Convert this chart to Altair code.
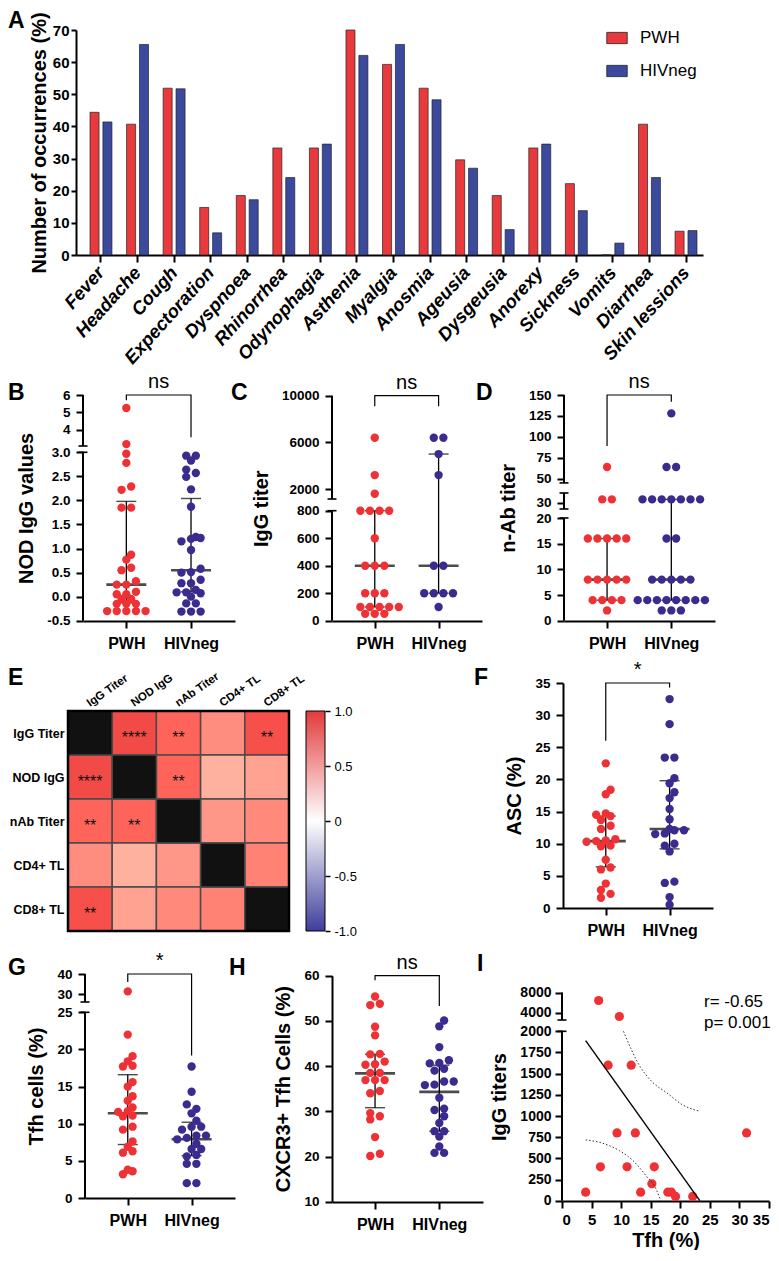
import altair as alt
import pandas as pd
import numpy as np

FONT = "Liberation Sans"
NARROW = "Liberation Sans"
RED = "#EE3135"
PURPLE = "#3B2B8E"
BAR_RED = "#E83A3D"
BAR_BLUE = "#3B4A9D"
HEAT_NEG = "#3E3E9B"
HEAT_POS = "#E23B3C"
groups = ["PWH", "HIVneg"]

# ---------------- A: symptoms ----------------
symptoms = ["Fever", "Headache", "Cough", "Expectoration", "Dyspnoea", "Rhinorrhea",
            "Odynophagia", "Asthenia", "Myalgia", "Anosmia", "Ageusia", "Dysgeusia",
            "Anorexy", "Sickness", "Vomits", "Diarrhea", "Skin lessions"]
symptom_pwh = [44.4, 40.7, 51.9, 14.8, 18.5, 33.3, 33.3, 70.0, 59.3, 51.9, 29.6, 18.5,
               33.3, 22.2, 0.0, 40.7, 7.4]
symptom_hivneg = [41.4, 65.5, 51.7, 6.9, 17.2, 24.1, 34.5, 62.1, 65.5, 48.3, 27.0, 7.9,
                  34.5, 13.8, 3.7, 24.1, 7.6]

# ---------------- B: NOD IgG ----------------
nod_pwh = [5.25, 3.16, 2.97, 2.78, 2.29, 2.22, 1.85, 1.85, 0.87, 0.77, 0.60, 0.55, 0.32,
           0.25, 0.25, 0.10, 0.05, 0.05, -0.05, -0.05, -0.15, -0.15, -0.15, -0.30, -0.30,
           -0.30, -0.30, -0.30]
nod_hivneg = [2.93, 2.93, 2.83, 2.64, 2.57, 2.49, 2.23, 1.87, 1.24, 1.22, 1.20, 1.15, 0.97,
              0.58, 0.51, 0.50, 0.35, 0.28, 0.28, 0.14, 0.09, 0.09, 0.07, 0.0, -0.14, -0.14,
              -0.31, -0.31, -0.31]
nod_median = [0.25, 0.55]
nod_low = [-0.13, 0.10]
nod_high = [1.98, 2.04]

# ---------------- C: IgG titer ----------------
igg_pwh = [6400, 3200, 1600, 800, 800, 800, 800, 600, 400, 400, 400, 200, 200, 200,
           100, 100, 100, 100, 100, 50, 50, 50]
igg_hivneg = [6400, 6400, 5000, 3200, 400, 400, 200, 200, 200, 200, 100]
igg_median = [400, 400]
igg_low = [100, 200]
igg_high = [800, 5000]

# ---------------- D: n-Ab titer ----------------
nab_pwh = [64, 32, 32, 16, 16, 16, 16, 16, 8, 8, 8, 8, 8, 4, 4, 4, 4, 2]
nab_hivneg = [128, 64, 64, 32, 32, 32, 32, 32, 32, 32, 16, 16, 8, 8, 8, 8, 8,
              4, 4, 4, 4, 4, 4, 4, 4, 2, 2, 2]
nab_median = [8, 8]
nab_low = [4, 4]
nab_high = [16, 32]

# ---------------- E: correlation matrix ----------------
corr_vars = ["IgG Titer", "NOD IgG", "nAb Titer", "CD4+ TL", "CD8+ TL"]
corr_values = [
    [None, 0.90, 0.72, 0.42, 0.86],
    [0.90, None, 0.72, 0.16, 0.27],
    [0.72, 0.72, None, 0.35, 0.45],
    [0.42, 0.16, 0.35, None, 0.50],
    [0.86, 0.27, 0.45, 0.50, None],
]
corr_stars = [
    ["", "****", "**", "", "**"],
    ["****", "", "**", "", ""],
    ["**", "**", "", "", ""],
    ["", "", "", "", ""],
    ["**", "", "", "", ""],
]
colorbar_ticks = [-1.0, -0.5, 0.0, 0.5, 1.0]

# ---------------- F: ASC ----------------
asc_pwh = [22.5, 18.4, 17.7, 14.7, 14.5, 14.3, 13.7, 12.8, 12.3, 10.7, 10.5, 10.4, 10.3,
           9.7, 9.6, 7.5, 6.3, 6.0, 3.8, 2.8, 2.2, 1.6]
asc_hivneg = [32.5, 28.6, 23.4, 23.4, 20.2, 19.4, 18.0, 17.1, 15.4, 13.8, 12.3, 12.1, 12.1,
              11.6, 11.5, 10.0, 9.7, 8.8, 4.1, 3.9, 1.7, 0.5]
asc_median = [10.4, 12.3]
asc_low = [6.4, 9.2]
asc_high = [14.3, 19.8]

# ---------------- G: Tfh cells ----------------
tfh_pwh = [31.3, 22.0, 19.1, 18.4, 17.8, 17.7, 15.6, 15.0, 13.7, 13.1, 12.2, 11.7, 11.6,
           11.1, 11.0, 9.6, 9.2, 7.6, 6.9, 6.3, 6.1, 3.8, 3.6, 3.2]
tfh_hivneg = [17.7, 14.3, 12.6, 12.0, 11.4, 10.4, 9.6, 9.6, 9.2, 8.4, 8.4, 8.1, 7.9, 7.3,
              6.6, 6.6, 5.8, 5.6, 4.6, 4.6, 2.0, 2.0]
tfh_median = [11.4, 7.9]
tfh_low = [7.2, 5.7]
tfh_high = [16.6, 10.2]

# ---------------- H: CXCR3+ Tfh ----------------
cx_pwh = [55.4, 53.8, 53.5, 48.7, 46.8, 42.7, 42.6, 41.0, 40.4, 40.3, 38.5, 38.5, 36.9,
          36.9, 36.9, 34.5, 34.0, 29.6, 28.9, 28.2, 24.3, 20.6, 20.1]
cx_hivneg = [50.1, 48.8, 44.2, 41.3, 40.7, 40.6, 39.4, 39.0, 36.6, 36.6, 35.9, 35.8, 33.0,
             30.6, 30.3, 28.9, 27.4, 25.6, 25.6, 24.4, 22.2, 20.8, 20.8]
cx_median = [38.4, 34.3]
cx_low = [30.8, 25.6]
cx_high = [42.6, 40.2]

# ---------------- I: Tfh vs IgG ----------------
corr_tfh = [6.2, 9.7, 7.8, 11.7, 9.3, 12.4, 31.2, 6.5, 11.0, 15.6, 15.2, 4.0, 13.3, 17.9,
            18.5, 19.2, 22.1]
corr_igg = [6400, 3200, 1600, 1600, 800, 800, 800, 400, 400, 400, 200, 100, 100, 100,
            100, 50, 50]
fit_tfh = [4.0, 23.3]
fit_igg = [1891, 0]
band_hi_tfh = [10.4, 13.1, 15.3, 17.6, 20.4, 23.3]
band_hi_igg = [2000, 1595, 1399, 1280, 1131, 1056]
band_lo_tfh = [4.0, 6.3, 8.0, 9.7, 12.0, 14.2, 15.9, 16.7]
band_lo_igg = [717, 690, 650, 591, 473, 296, 138, 0]


# ================= helpers =================
def swarm(vals, ypix, d=9.6):
    """GraphPad-like scatter: bin close values into rows, centre each row,
    nudge a row by half a step if it sits right on top of the previous ones."""
    vals = np.asarray(vals, float)
    py = ypix(vals)
    order = sorted(range(len(vals)), key=lambda i: -py[i])
    rows = []
    for i in order:
        if rows and abs(py[i] - py[rows[-1][0]]) <= 0.45 * d:
            rows[-1].append(i)
        else:
            rows.append([i])
    offs = np.zeros(len(vals))
    placed = []
    for row in rows:
        n = len(row)
        base = [(j - (n - 1) / 2) * d for j in range(n)]
        best, best_md = 0.0, -1.0
        for s in [0.0, d / 2, -d / 2]:
            md = 1e9
            for j, i in enumerate(row):
                x = base[j] + s
                for (px, pyy) in placed:
                    md = min(md, ((x - px) ** 2 + (py[i] - pyy) ** 2) ** 0.5)
            if s == 0.0 and md >= 0.75 * d:
                best = 0.0
                break
            if md > best_md + 0.3:
                best, best_md = s, md
        for j, i in enumerate(row):
            offs[i] = base[j] + best
            placed.append((offs[i], py[i]))
    return offs


def letter_layer(letter, lx, ly):
    return alt.Chart(pd.DataFrame({"t": [letter]})).mark_text(
        font=FONT, fontSize=23, fontWeight="bold", align="left", baseline="alphabetic",
        color="black").encode(x=alt.value(lx), y=alt.value(ly), text="t:N")


def axis_break_layers(Y, segments):
    seg = pd.DataFrame({"lo": [s[0] for s in segments], "hi": [s[1] for s in segments]})
    segs = alt.Chart(seg).mark_rule(color="black", strokeWidth=2).encode(
        x=alt.value(0), y=Y("lo"), y2="hi")
    ends = []
    for k in range(len(segments) - 1):
        ends += [segments[k][1], segments[k + 1][0]]
    brk = alt.Chart(pd.DataFrame({"v": ends})).mark_rule(color="black", strokeWidth=1.6).encode(
        x=alt.value(-4.5), x2=alt.value(4.5), y=Y("v"))
    return [segs, brk]


XDOM = [0.33, 2.68]


def dot_panel(pwh, hiv, med, lo, hi, dom, rng, ticks, label_expr, ytitle, width, height,
              bracket, sig, segments, letter, letter_xy):
    ppu = width / (XDOM[1] - XDOM[0])
    ypix = lambda v: np.interp(v, dom, rng)
    rows = []
    for cat, g, vals in [(1, "PWH", pwh), (2, "HIVneg", hiv)]:
        offs = swarm(vals, ypix)
        for v, o in zip(vals, offs):
            rows.append({"x": cat + o / ppu, "v": v, "g": g})
    dots = pd.DataFrame(rows)
    xs = alt.Scale(domain=XDOM, range=[0, width], nice=False, zero=False)
    ys = alt.Scale(domain=dom, range=rng, nice=False, zero=False)
    xaxis = alt.Axis(values=[1, 2], labelExpr="datum.value == 1 ? 'PWH' : 'HIVneg'",
                     title=None, labelFontSize=16, labelPadding=7, tickSize=7)
    yaxis = alt.Axis(values=ticks, labelExpr=label_expr, title=ytitle,
                     domain=(segments is None), tickSize=7, labelPadding=6,
                     titlePadding=10, labelOverlap=False, labelFontSize=13.5,
                     titleFontSize=20)
    X = lambda f: alt.X(f, type="quantitative", scale=xs, axis=xaxis)
    Y = lambda f: alt.Y(f, type="quantitative", scale=ys, axis=yaxis)

    st = pd.DataFrame({"x": [1, 2], "med": med, "lo": lo, "hi": hi})
    caps = pd.DataFrame({"x": [1, 2, 1, 2], "v": list(lo) + list(hi)})
    whisk = alt.Chart(st).mark_rule(color="black", strokeWidth=1.3).encode(
        x=X("x"), y=Y("lo"), y2="hi")
    capm = alt.Chart(caps).mark_tick(orient="horizontal", size=20, thickness=1.4,
                                     color="black").encode(x=X("x"), y=Y("v"))
    medm = alt.Chart(st).mark_tick(orient="horizontal", size=40, thickness=2.6,
                                   color="black").encode(x=X("x"), y=Y("med"))
    pts = alt.Chart(dots).mark_circle(size=70, opacity=1).encode(
        x=X("x"), y=Y("v"),
        color=alt.Color("g:N", scale=alt.Scale(domain=groups, range=[RED, PURPLE]), legend=None))
    br = pd.DataFrame({"x": [1, 1, 2, 2], "v": [bracket[0], bracket[1], bracket[1], bracket[2]],
                       "o": [0, 1, 2, 3]})
    brm = alt.Chart(br).mark_line(color="black", strokeWidth=1.2).encode(
        x=X("x"), y=Y("v"), order="o:Q")
    sg = pd.DataFrame({"x": [1.5], "v": [bracket[1]], "t": [sig]})
    sgm = alt.Chart(sg).mark_text(font=NARROW, fontSize=20, baseline="bottom", dy=-3,
                                  color="black").encode(x=X("x"), y=Y("v"), text="t:N")
    layers = [whisk, capm, medm, pts, brm, sgm]
    if segments is not None:
        layers += axis_break_layers(Y, segments)
    layers.append(letter_layer(letter, *letter_xy))
    return alt.layer(*layers).properties(width=1, height=height)


def sp(w=1, h=1):
    return alt.Chart(pd.DataFrame({"s": [0]})).mark_point(opacity=0).encode(
        x=alt.X("s:Q", axis=None), y=alt.Y("s:Q", axis=None)).properties(width=w, height=h)


# ================= Panel A =================
dfA = pd.DataFrame({
    "symptom": symptoms * 2,
    "group": ["PWH"] * len(symptoms) + ["HIVneg"] * len(symptoms),
    "value": symptom_pwh + symptom_hivneg,
})
barsA = alt.Chart(dfA).mark_bar(stroke="#222222", strokeWidth=0.7).encode(
    x=alt.X("symptom:N", sort=symptoms, title=None,
            scale=alt.Scale(range=[0, 627], paddingInner=0.4, paddingOuter=0.2735, align=0.7),
            axis=alt.Axis(labelAngle=-48, labelFontStyle="italic", labelFontSize=18.5,
                          labelPadding=7, tickSize=7)),
    xOffset=alt.XOffset("group:N", sort=groups, scale=alt.Scale(paddingInner=0.3)),
    y=alt.Y("value:Q", scale=alt.Scale(domain=[0, 70], nice=False),
            axis=alt.Axis(values=list(range(0, 71, 10)), title="Number of occurrences (%)",
                          tickSize=5, labelPadding=2, titlePadding=3, labelFontSize=15,
                          titleFontSize=20)),
    color=alt.Color("group:N", sort=groups,
                    scale=alt.Scale(domain=groups, range=[BAR_RED, BAR_BLUE]),
                    legend=alt.Legend(title=None, orient="none", legendX=530, legendY=-3,
                                      symbolType="M-1,-0.55H1V0.55H-1Z", symbolSize=420,
                                      symbolStrokeColor="#222222", symbolStrokeWidth=0.8,
                                      labelFont=NARROW, labelFontSize=17, labelOffset=12,
                                      rowPadding=14, labelColor="black")),
)
chartA = alt.layer(barsA, letter_layer("A", -68, -2)).properties(width=1, height=225)

# ================= Row 2 =================
fmt_dec = ("datum.value > 3.5 ? format(datum.value, 'd') : (datum.value < 0 ? '-' + "
           "format(-datum.value, '.1f') : format(datum.value, '.1f'))")
fmt_int = "format(datum.value, 'd')"

chartB = dot_panel(nod_pwh, nod_hivneg, nod_median, nod_low, nod_high,
                   [-0.5, 3.0, 3.05, 6.0], [225.7, 57.3, 51, 0],
                   [-0.5, 0, 0.5, 1.0, 1.5, 2.0, 2.5, 3.0, 4, 5, 6], fmt_dec,
                   "NOD IgG values", 152, 226, (5.7, 6.0, 3.55), "ns",
                   [(-0.5, 3.0), (3.05, 6.0)], "B", (-75, 5))
chartC = dot_panel(igg_pwh, igg_hivneg, igg_median, igg_low, igg_high,
                   [0, 800, 1150, 10000], [225.7, 115.7, 104, 0.7],
                   [0, 200, 400, 600, 800, 2000, 6000, 10000], fmt_int,
                   "IgG titer", 150, 226, (9100, 10000, 9100), "ns",
                   [(0, 800), (1150, 10000)], "C", (-101, 5))
chartD = dot_panel(nab_pwh, nab_hivneg, nab_median, nab_low, nab_high,
                   [0, 20, 26, 36, 45, 150], [225.7, 123, 114, 98, 87.9, 0],
                   [0, 5, 10, 15, 20, 30, 50, 75, 100, 125, 150], fmt_int,
                   "n-Ab titer", 151, 226, (89, 150, 142), "ns",
                   [(0, 20), (26, 36), (45, 150)], "D", (-88, 5))

# ================= Row 3: heatmap + colorbar + F =================
cells = []
for r, rowvals in enumerate(corr_values):
    for c, v in enumerate(rowvals):
        cells.append({"x0": c, "x1": c + 1, "y0": 4 - r, "y1": 5 - r, "xc": c + 0.5,
                      "yc": 4.5 - r, "val": v, "diag": v is None, "star": corr_stars[r][c]})
dfE = pd.DataFrame(cells)
exs = alt.Scale(domain=[0, 5], range=[0, 221], nice=False, zero=False)
eys = alt.Scale(domain=[0, 5.6364], nice=False, zero=False)
eyaxis = alt.Axis(values=[4.5, 3.5, 2.5, 1.5, 0.5],
                  labelExpr="['CD8+ TL','CD4+ TL','nAb Titer','NOD IgG','IgG Titer'][round(datum.value - 0.5)]",
                  domain=False, ticks=False, labelPadding=4, labelFontSize=12.5, title=None)
EX = lambda f: alt.X(f, type="quantitative", scale=exs, axis=None)
EY = lambda f: alt.Y(f, type="quantitative", scale=eys, axis=eyaxis)
heat = alt.Chart(dfE[~dfE["diag"]]).mark_rect(stroke="#4a4a4a", strokeWidth=1.5).encode(
    x=EX("x0"), x2="x1", y=EY("y0"), y2="y1",
    color=alt.Color("val:Q", scale=alt.Scale(domain=[-1, 0, 1],
                                             range=[HEAT_NEG, "#ffffff", HEAT_POS]),
                    legend=None))
diag = alt.Chart(dfE[dfE["diag"]]).mark_rect(fill="#111111", stroke="#4a4a4a",
                                             strokeWidth=1.5).encode(
    x=EX("x0"), x2="x1", y=EY("y0"), y2="y1")
stars = alt.Chart(dfE[dfE["star"] != ""]).mark_text(
    font=FONT, fontSize=16, baseline="middle", dy=5, color="#111111").encode(
    x=EX("xc"), y=EY("yc"), text="star:N")
frame = alt.Chart(pd.DataFrame({"x0": [0], "x1": [5], "y0": [0], "y1": [5]})).mark_rect(
    fillOpacity=0, stroke="black", strokeWidth=2.5).encode(
    x=EX("x0"), x2="x1", y=EY("y0"), y2="y1")
collab = alt.Chart(pd.DataFrame({"xc": [c + 0.5 for c in range(5)], "yc": [5.09] * 5,
                                 "t": corr_vars})).mark_text(
    font=FONT, fontSize=11.5, fontWeight="bold", angle=325, align="left",
    baseline="alphabetic", color="black").encode(x=EX("xc"), y=EY("yc"), text="t:N")
chartE = alt.layer(heat, diag, stars, frame, collab, letter_layer("E", -60, 2)).properties(
    width=1, height=248)

grad = alt.LinearGradient(gradient="linear",
                          stops=[alt.GradientStop(color=HEAT_NEG, offset=0),
                                 alt.GradientStop(color="#ffffff", offset=0.5),
                                 alt.GradientStop(color=HEAT_POS, offset=1)],
                          x1=0, x2=0, y1=1, y2=0)
cbar = alt.Chart(pd.DataFrame({"x0": [0], "x1": [1], "lo": [-1.0], "hi": [1.0]})).mark_rect(
    fill=grad, stroke="black", strokeWidth=1).encode(
    x=alt.X("x0:Q", scale=alt.Scale(domain=[0, 1], range=[0, 19], nice=False), axis=None),
    x2="x1",
    y=alt.Y("lo:Q", scale=alt.Scale(domain=[-1, 1], range=[248, 28], nice=False),
            axis=alt.Axis(orient="right", values=colorbar_ticks, domain=False, tickSize=5,
                          tickWidth=1.5, labelFontWeight="normal", labelFontSize=13,
                          labelPadding=4, title=None, offset=18,
                          labelExpr="datum.value == 0 ? '0' : (datum.value < 0 ? '-' + format(-datum.value, '.1f') : format(datum.value, '.1f'))")),
    y2="hi")
chartCB = cbar.properties(width=1, height=248)

chartF = dot_panel(asc_pwh, asc_hivneg, asc_median, asc_low, asc_high,
                   [0, 35], [225, 0], list(range(0, 36, 5)), fmt_int,
                   "ASC (%)", 150, 225, (26.0, 35.0, 34.3), "*", None, "F", (-89, 2))

# ================= Row 4 =================
chartG = dot_panel(tfh_pwh, tfh_hivneg, tfh_median, tfh_low, tfh_high,
                   [0, 25, 26, 40], [224, 38.3, 28, 0], [0, 5, 10, 15, 20, 25, 30, 40],
                   fmt_int, "Tfh cells (%)", 150, 224, (36.0, 40.0, 19.2), "*",
                   [(0, 25), (26, 40)], "G", (-77, 1))
chartH = dot_panel(cx_pwh, cx_hivneg, cx_median, cx_low, cx_high,
                   [10, 60], [227.7, 1.7], [10, 20, 30, 40, 50, 60], fmt_int,
                   "CXCR3+ Tfh Cells (%)", 151, 228, (59.0, 60.0, 53.3), "ns", None,
                   "H", (-103, 1))

idom = [0, 2000, 2500, 8000]
irng = [226.7, 57.3, 46, 18.5]
ixs = alt.Scale(domain=[0, 35], range=[0, 207], nice=False, zero=False)
iys = alt.Scale(domain=idom, range=irng, nice=False, zero=False)
ixaxis = alt.Axis(values=list(range(0, 36, 5)), title="Tfh (%)", tickSize=7, labelPadding=4,
                  labelFontSize=15, titleFontSize=20, titlePadding=3, labelOverlap=False)
iyaxis = alt.Axis(values=list(range(0, 2001, 250)) + [4000, 8000], labelExpr=fmt_int,
                  title="IgG titers", domain=False, tickSize=7, labelPadding=4,
                  titlePadding=10, labelOverlap=False, labelFontSize=14, titleFontSize=20)
IX = lambda f: alt.X(f, type="quantitative", scale=ixs, axis=ixaxis)
IY = lambda f: alt.Y(f, type="quantitative", scale=iys, axis=iyaxis)
ipts = alt.Chart(pd.DataFrame({"x": corr_tfh, "v": corr_igg})).mark_circle(
    size=85, opacity=1, color=RED).encode(x=IX("x"), y=IY("v"))
ifit = alt.Chart(pd.DataFrame({"x": fit_tfh, "v": fit_igg})).mark_line(
    color="black", strokeWidth=1.4).encode(x=IX("x"), y=IY("v"))
ihi = alt.Chart(pd.DataFrame({"x": band_hi_tfh, "v": band_hi_igg})).mark_line(
    color="#333333", strokeWidth=1, strokeDash=[1.5, 2], interpolate="monotone").encode(
    x=IX("x"), y=IY("v"))
ilo = alt.Chart(pd.DataFrame({"x": band_lo_tfh, "v": band_lo_igg})).mark_line(
    color="#333333", strokeWidth=1, strokeDash=[1.5, 2], interpolate="monotone").encode(
    x=IX("x"), y=IY("v"))
itxt = alt.Chart(pd.DataFrame({"t": ["r= -0.65", "p= 0.001"], "py": [33, 54]})).mark_text(
    font=NARROW, fontSize=17, align="left", baseline="alphabetic", color="black").encode(
    x=alt.value(142), y=alt.Y("py:Q", scale=None), text="t:N")
chartI = alt.layer(ipts, ifit, ihi, ilo, itxt,
                   *axis_break_layers(IY, [(0, 2000), (2500, 8000)]),
                   letter_layer("I", -85, -3)).properties(width=1, height=227)

# ================= Layout: grid with shared column starts =================
# column starts (x): 68, 76, 83, 85, 306, 332, 562, 563, 564
colw = [8, 7, 2, 221, 26, 230, 1, 1, 1]


def gap_row(h):
    return [sp(w, h) for w in colw]


cells_grid = (
    [sp(), chartA, sp(), sp(), sp(), sp(), sp(), sp(), sp()]
    + gap_row(140)
    + [sp(), sp(), chartB, sp(), sp(), chartC, sp(), sp(), chartD]
    + gap_row(62)
    + [chartE, sp(), sp(), sp(), chartCB, sp(), sp(), chartF, sp()]
    + gap_row(43)
    + [sp(), sp(), sp(), chartG, sp(), chartH, chartI, sp(), sp()]
)

chart = alt.concat(
    *cells_grid, columns=9, spacing=0, bounds="flush", align="each",
).properties(padding={"left": 0, "top": 2, "right": 0, "bottom": 0},
             background="white").resolve_scale(
    color="independent").configure_view(stroke=None).configure_axis(
    domainColor="black", domainWidth=2, tickColor="black", tickWidth=2,
    labelFont=FONT, labelFontWeight="bold", labelColor="black", labelFontSize=14,
    titleFont=FONT, titleFontWeight="bold", titleFontSize=19, titleColor="black", grid=False,
).configure_legend(labelFont=NARROW)

chart.save("out.html", embed_options={"renderer": "svg", "actions": False})
